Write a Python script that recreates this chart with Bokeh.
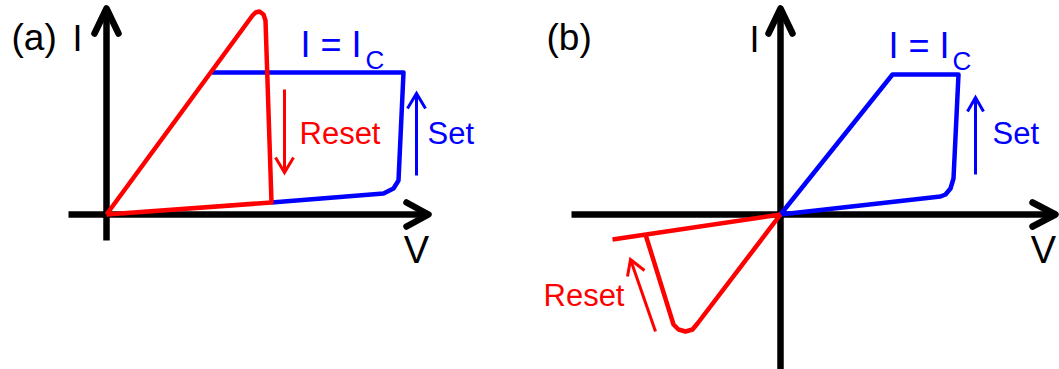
from bokeh.plotting import figure
from bokeh.layouts import row
from bokeh.models import Range1d
from bokeh.core.properties import value
from bokeh.embed import file_html
from bokeh.resources import INLINE

FONT = value("Liberation Sans")
RED = "#ff0000"
BLUE = "#0000ff"

# ---- panel (a): unipolar switching, (V, I) in sketch units, origin at axis crossing
a_reset_v = [0, 146, 149, 153, 157, 159, 165, 0]
a_reset_i = [0, 199, 202, 203, 200, 194, 12, 0]
a_set_v = [165, 277, 287, 292, 297, 105]
a_set_i = [12, 21, 26, 34, 142, 142]

# ---- panel (b): bipolar switching
b_set_v = [0, 112, 178, 173, 170, 165, 160, 0]
b_set_i = [0, 140, 140, 36, 26, 20, 18, 0]
b_reset_v = [0, -168]
b_reset_i = [0, -25]
b_reset_drop_v = [-135, -107, -102, -95, -88, -83, 0]
b_reset_drop_i = [-20, -110, -115, -117, -115, -109, 0]


def make_panel(width, x0, x1):
    p = figure(width=width, height=369, output_backend="svg", toolbar_location=None,
               x_range=Range1d(x0, x1), y_range=Range1d(-155, 214),
               min_border=0, x_axis_type=None, y_axis_type=None)
    p.grid.visible = False
    p.outline_line_color = None
    p.background_fill_color = "white"
    p.border_fill_color = "white"
    return p


def axis_arrow(p, xs, ys, wx, wy):
    p.line(xs, ys, line_color="black", line_width=6.5, line_cap="butt")
    p.line(wx, wy, line_color="black", line_width=6.5, line_cap="round", line_join="round")


def thin_arrow(p, xs, ys, wx, wy, color):
    p.line(xs, ys, line_color=color, line_width=3)
    p.line(wx, wy, line_color=color, line_width=3, line_join="miter")


def label(p, x, y, s, size, color="black", align="left"):
    # the renderer drops the alphabetic baseline a little; lift it back by ~0.42 em
    lift = 0.42 * float(size.rstrip("px"))
    p.text([x], [y + lift], text=[s], text_font=FONT, text_font_size=size, text_color=color,
           text_align=align, text_baseline="alphabetic")


CURVE_W = 4.5

# ================= (a) =================
pa = make_panel(530, -106, 424)
axis_arrow(pa, [-38, 322], [0, 0], [300, 322, 300], [12, 0, -12])
axis_arrow(pa, [0, 0], [-26, 206], [-12, 0, 12], [181, 206, 181])
pa.line(a_set_v, a_set_i, line_color=BLUE, line_width=CURVE_W, line_join="round")
pa.line(a_reset_v, a_reset_i, line_color=RED, line_width=CURVE_W, line_join="round")
thin_arrow(pa, [178, 178], [125, 42], [169, 178, 187], [57, 42, 57], RED)
thin_arrow(pa, [310, 310], [39, 121], [301, 310, 319], [106, 121, 106], BLUE)
label(pa, -95, 161, "(a)", "37px")
label(pa, -34, 161, "I", "36px")
label(pa, 194, 155, "I = I", "36px", BLUE)
label(pa, 259, 144, "C", "26px", BLUE)
label(pa, 193, 68, "Reset", "31px", RED)
label(pa, 321, 68, "Set", "31px", BLUE)
label(pa, 310, -51, "V", "38px", align="center")

# ================= (b) =================
pb = make_panel(529, -250, 279)
axis_arrow(pb, [-209, 275], [0, 0], [252, 275, 252], [12, 0, -12])
axis_arrow(pb, [0, 0], [-160, 206], [-12, 0, 12], [181, 206, 181])
pb.line(b_set_v, b_set_i, line_color=BLUE, line_width=CURVE_W, line_join="round")
pb.line(b_reset_v, b_reset_i, line_color=RED, line_width=CURVE_W, line_join="round")
pb.line(b_reset_drop_v, b_reset_drop_i, line_color=RED, line_width=CURVE_W, line_join="round")
thin_arrow(pb, [-125, -150], [-117, -45], [-153, -150, -136], [-62, -45, -56], RED)
thin_arrow(pb, [195, 195], [40, 117], [187, 195, 203], [103, 117, 103], BLUE)
label(pb, -234, 161, "(b)", "37px")
label(pb, -31, 160, "I", "36px")
label(pb, 108, 154, "I = I", "36px", BLUE)
label(pb, 172, 143, "C", "26px", BLUE)
label(pb, 212, 68, "Set", "31px", BLUE)
label(pb, -237, -94, "Reset", "31px", RED)
label(pb, 263, -51, "V", "38px", align="center")

layout = row(pa, pb, spacing=0)
open("out.html", "w").write(file_html(layout, INLINE))
